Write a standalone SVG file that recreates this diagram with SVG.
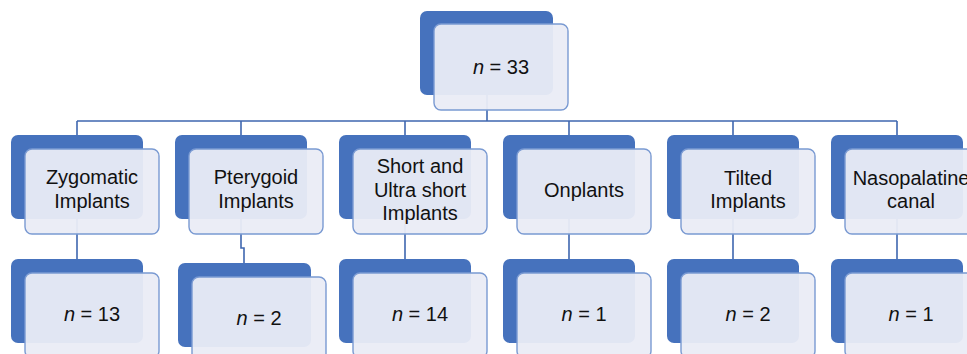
<svg xmlns="http://www.w3.org/2000/svg" width="967" height="354" viewBox="0 0 967 354">
<style>
.dk{fill:#4672BD}
.lt{fill:#EAECF6;fill-opacity:0.95;stroke:#7A9AD2;stroke-width:1.4}
.cn{fill:none;stroke:#3F67B0;stroke-width:1.6}
text{font-family:"Liberation Sans",Arial,sans-serif;font-size:20px;fill:#111;text-anchor:middle}
</style>
<rect width="967" height="354" fill="#fff"/>
<g id="connectors">
<path class="cn" d="M487 95V121M77 121H897M77 121V135M241 121V135M405 121V135M569 121V135M733 121V135M897 121V135"/>
<path class="cn" d="M77 219V259M241 219V248H244V263M405 219V259M569 219V259M733 219V259M897 219V259"/>
</g>
<g id="root"><rect class="dk" x="420" y="11" width="133" height="84" rx="7"/><rect class="lt" x="434" y="24" width="134" height="86" rx="7"/><text x="501" y="74"><tspan font-style="italic">n</tspan> = 33</text></g>
<g id="zygomatic"><rect class="dk" x="11" y="135" width="132" height="84" rx="7"/><rect class="lt" x="25" y="149" width="134" height="85" rx="7"/><text x="92" y="184">Zygomatic</text><text x="92" y="208">Implants</text></g>
<g id="pterygoid"><rect class="dk" x="175" y="135" width="132" height="84" rx="7"/><rect class="lt" x="189" y="149" width="134" height="85" rx="7"/><text x="256" y="184">Pterygoid</text><text x="256" y="208">Implants</text></g>
<g id="short"><rect class="dk" x="339" y="135" width="132" height="84" rx="7"/><rect class="lt" x="353" y="149" width="134" height="85" rx="7"/><text x="420" y="173">Short and</text><text x="420" y="196.5">Ultra short</text><text x="420" y="220">Implants</text></g>
<g id="onplants"><rect class="dk" x="503" y="135" width="132" height="84" rx="7"/><rect class="lt" x="517" y="149" width="134" height="85" rx="7"/><text x="584" y="197">Onplants</text></g>
<g id="tilted"><rect class="dk" x="667" y="135" width="132" height="84" rx="7"/><rect class="lt" x="681" y="149" width="134" height="85" rx="7"/><text x="748" y="185">Tilted</text><text x="748" y="208">Implants</text></g>
<g id="nasopalatine"><rect class="dk" x="831" y="135" width="132" height="84" rx="7"/><rect class="lt" x="845" y="149" width="134" height="85" rx="7"/><text x="911" y="185">Nasopalatine</text><text x="911" y="208">canal</text></g>
<g id="n13"><rect class="dk" x="11" y="259" width="132" height="84" rx="7"/><rect class="lt" x="25" y="273" width="134" height="85" rx="7"/><text x="92" y="321"><tspan font-style="italic">n</tspan> = 13</text></g>
<g id="n2a"><rect class="dk" x="178" y="263" width="133" height="84" rx="7"/><rect class="lt" x="192" y="277" width="134" height="85" rx="7"/><text x="259" y="325"><tspan font-style="italic">n</tspan> = 2</text></g>
<g id="n14"><rect class="dk" x="339" y="259" width="132" height="84" rx="7"/><rect class="lt" x="353" y="273" width="134" height="85" rx="7"/><text x="420" y="321"><tspan font-style="italic">n</tspan> = 14</text></g>
<g id="n1a"><rect class="dk" x="503" y="259" width="132" height="84" rx="7"/><rect class="lt" x="517" y="273" width="134" height="85" rx="7"/><text x="584" y="321"><tspan font-style="italic">n</tspan> = 1</text></g>
<g id="n2b"><rect class="dk" x="667" y="259" width="132" height="84" rx="7"/><rect class="lt" x="681" y="273" width="134" height="85" rx="7"/><text x="748" y="321"><tspan font-style="italic">n</tspan> = 2</text></g>
<g id="n1b"><rect class="dk" x="831" y="259" width="132" height="84" rx="7"/><rect class="lt" x="845" y="273" width="134" height="85" rx="7"/><text x="911" y="321"><tspan font-style="italic">n</tspan> = 1</text></g>
</svg>
